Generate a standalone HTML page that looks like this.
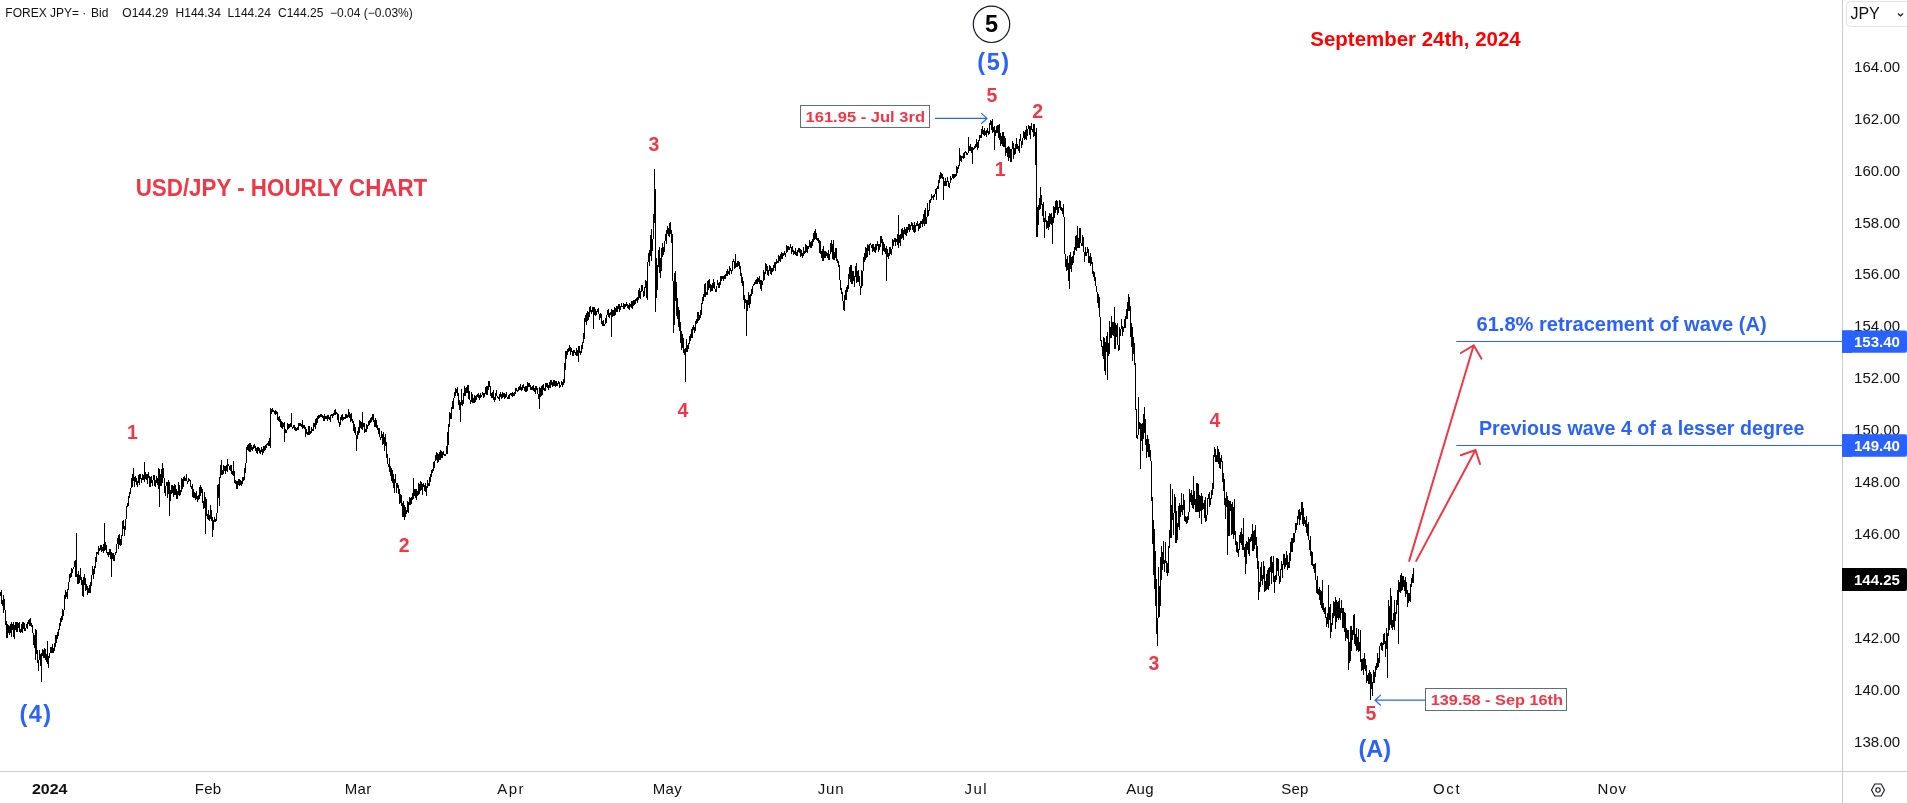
<!DOCTYPE html>
<html><head><meta charset="utf-8"><title>USD/JPY</title>
<style>
html,body{margin:0;padding:0;background:#fff;}
body{width:1907px;height:803px;overflow:hidden;position:relative;font-family:"Liberation Sans", sans-serif;}
svg{position:absolute;left:0;top:0;display:block;will-change:transform;}
.ax{font-family:"Liberation Sans", sans-serif;font-size:15px;fill:#111111;}
.hd{font-family:"Liberation Sans", sans-serif;font-size:12px;fill:#111111;}
.rd{font-family:"Liberation Sans", sans-serif;font-weight:bold;fill:#f23645;}
.bl{font-family:"Liberation Sans", sans-serif;font-weight:bold;fill:#2962ff;}
</style></head>
<body>
<svg width="1907" height="803" viewBox="0 0 1907 803">
<rect x="0" y="0" width="1907" height="803" fill="#ffffff"/>
<!-- price line -->
<path d="M0.5 592.7V595.7V594.2V593.2L1.5 590.2V592.9V601.2V602.1L2.5 606.2V604.5V605.0V604.7L3.5 595.1V605.5V609.9V613.1L4.5 600.5V599.4V600.5V604.4L5.5 614.8V617.6V625.3V617.9L6.5 623.8V627.4V620.9V636.7L7.5 635.0V638.2V629.0V625.0L8.5 626.2V628.6V633.2V633.2L9.5 629.7V625.5V625.7V634.8L10.5 628.4V630.9V633.1V623.7L11.5 627.7V636.5V622.0V624.8L12.5 627.3V624.4V630.4V629.9L13.5 622.3V630.9V633.7V636.2L14.5 637.9V635.7V632.8V625.0L15.5 630.2V627.0V626.3V622.7L16.5 622.4V624.0V631.7V622.6L17.5 622.7V626.0V632.4V632.1L18.5 623.8V622.9V624.8V624.3L19.5 622.7V628.9V632.0V630.3L20.5 629.8V630.1V633.3V632.6L21.5 631.6V631.2V624.0V630.1L22.5 631.7V631.0V622.4V622.9L23.5 628.0V621.6V623.9V628.9L24.5 623.4V630.6V630.2V627.8L25.5 628.2V629.4V628.0V630.6L26.5 625.7V624.2V628.0V626.4L27.5 622.6V626.5V629.4V625.1L28.5 620.1V621.5V621.9V621.5L29.5 626.2V621.1V625.2V619.7L30.5 618.5V621.8V624.5V624.8L31.5 623.3V622.5V623.6V626.5L32.5 625.6V627.9V631.4V630.8L33.5 635.9V638.1V644.8V645.1L34.5 637.4V634.7V637.1V647.8L35.5 641.6V646.6V660.3V629.6L36.5 631.4V643.0V651.0V653.9L37.5 650.4V658.4V659.7V655.2L38.5 670.5V669.6V661.4V660.4L39.5 659.1V659.5V650.0V650.0L40.5 661.7V653.7V656.8V664.3L41.5 666.7V668.8V682.0V654.5V654.6L42.5 651.6V649.6V655.5V648.9L43.5 653.7V657.5V650.1V656.5L44.5 656.3V658.4V654.6V648.3L45.5 650.9V649.2V654.4V660.2L46.5 654.1V661.6V658.6V654.1L47.5 657.9V657.8V641.0V662.4V663.7L48.5 663.3V667.6V668.2V659.9L49.5 652.7V657.0V658.2V655.8L50.5 650.9V649.0V652.3V647.9L51.5 648.0V651.1V652.5V648.6L52.5 652.8V644.5V643.8V648.3L53.5 653.2V648.0V647.9V648.1L54.5 650.5V650.2V648.2V643.4L55.5 646.7V636.4V636.7V635.9L56.5 636.0V636.8V643.2V641.3L57.5 636.1V632.3V636.1V632.9L58.5 636.4V629.0V630.0V631.8L59.5 629.0V630.2V625.5V623.8L60.5 622.2V623.5V625.5V621.1L61.5 615.7V618.8V621.6V616.8L62.5 620.3V615.0V609.1V609.8L63.5 615.8V613.6V611.5V610.2L64.5 609.6V604.1V595.3V601.2L65.5 596.3V596.9V590.1V594.5L66.5 597.3V594.5V591.6V592.1L67.5 591.7V599.1V589.8V589.9L68.5 589.8V583.9V582.4V584.0L69.5 580.0V580.5V579.0V575.7L70.5 573.2V573.6V577.9V573.2L71.5 576.9V567.8V567.6V571.2L72.5 573.2V569.1V569.5V569.9L73.5 567.5V568.1V568.0V569.3L74.5 565.1V560.9V566.1V565.4L75.5 565.2V560.1V570.2V576.2L76.5 576.4V572.1V533.0V576.3V571.6L77.5 575.9V581.2V578.0V582.9L78.5 583.8V578.9V570.6V576.0L79.5 581.5V582.3V574.5V583.2L80.5 577.6V570.2V568.1V573.4L81.5 580.5V579.4V585.0V580.2L82.5 583.4V580.6V579.7V595.8L83.5 595.7V596.8V597.2V578.5L84.5 574.9V574.4V575.0V585.2L85.5 578.5V582.8V582.8V590.3L86.5 589.9V584.3V589.9V585.0L87.5 588.6V587.7V586.4V594.7L88.5 590.7V592.6V589.4V587.9L89.5 592.4V588.2V593.1V584.7L90.5 592.5V589.2V591.2V583.0L91.5 580.7V582.7V586.3V577.7L92.5 572.9V572.9V565.9V571.7L93.5 570.1V578.7V574.5V570.7L94.5 574.0V570.1V572.3V567.0L95.5 565.1V567.5V561.5V557.3L96.5 556.4V553.9V561.5V552.5L97.5 552.2V554.2V552.5V552.9L98.5 554.2V546.1V552.0V550.7L99.5 550.1V548.9V550.6V548.5L100.5 549.5V545.1V550.3V549.8L101.5 545.4V548.9V552.2V549.0L102.5 548.1V547.2V548.4V550.2L103.5 551.7V549.3V543.5V552.6L104.5 549.6V523.0V548.8V549.3V545.9L105.5 549.6V547.6V542.2V544.7L106.5 546.5V551.1V552.5V550.7L107.5 553.8V554.5V554.0V553.6L108.5 552.7V556.9V551.7V551.7L109.5 554.6V549.4V551.7V549.8L110.5 550.0V556.2V559.3V558.2L111.5 557.0V551.9V562.5V577.0V562.1L112.5 555.7V552.9V556.8V556.1L113.5 553.4V555.9V560.9V554.7L114.5 559.4V555.6V560.8V555.3L115.5 554.5V552.1V554.7V553.9L116.5 551.3V552.2V553.2V546.0L117.5 542.6V540.2V540.7V537.9L118.5 548.6V545.5V543.6V537.1L119.5 533.8V535.4V545.1V545.2L120.5 541.8V541.9V538.9V546.1L121.5 543.4V545.2V544.6V539.1L122.5 531.5V536.2V529.9V522.1L123.5 521.0V520.0V526.8V528.4L124.5 526.8V535.9V526.8V532.5L125.5 528.4V523.1V518.6V524.0L126.5 515.0V506.2V506.4V511.0L127.5 503.4V503.7V507.1V506.6L128.5 505.7V504.8V503.9V499.8L129.5 491.6V494.9V497.9V494.3L130.5 492.6V494.0V493.8V489.7L131.5 486.2V484.6V478.6V477.6L132.5 484.2V487.0V474.2V475.7L133.5 476.7V468.0V475.3V481.3V477.6L134.5 484.4V487.0V483.3V477.9L135.5 478.9V475.6V477.1V481.1L136.5 479.4V483.7V479.9V484.0L137.5 484.6V481.3V486.8V483.6L138.5 481.5V481.8V475.2V481.9L139.5 484.8V484.5V482.2V474.5L140.5 476.6V478.5V476.4V474.1L141.5 480.9V483.2V479.4V479.8L142.5 479.8V473.5V475.3V477.2L143.5 477.9V474.6V479.6V475.6L144.5 477.3V479.1V481.9V462.0V478.2L145.5 478.1V472.4V475.0V477.7L146.5 479.6V477.6V473.9V476.6L147.5 475.1V483.2V483.5V479.7L148.5 476.5V474.2V472.2V474.0L149.5 477.9V480.7V482.4V486.6L150.5 481.1V480.4V487.2V477.4L151.5 476.7V479.6V480.9V482.8L152.5 480.9V482.8V482.4V485.6L153.5 475.1V475.1V479.1V476.5L154.5 475.3V482.4V480.0V484.8L155.5 487.4V486.3V486.6V483.8L156.5 476.2V479.1V482.6V479.3L157.5 479.7V483.9V477.7V482.2L158.5 488.5V468.0V481.7V481.1V479.2L159.5 471.2V479.2V507.0V483.3V469.4L160.5 478.3V477.9V486.4V476.8L161.5 485.8V469.0V472.9V477.2L162.5 480.2V483.2V474.1V463.0V467.5L163.5 468.4V469.0V474.6V476.5L164.5 479.4V480.8V487.5V491.1L165.5 494.1V492.9V495.8V489.9L166.5 482.3V484.1V486.4V484.6L167.5 482.3V498.2V495.1V496.0L168.5 492.4V490.6V480.0V480.3L169.5 483.5V492.3V493.8V516.0V488.7L170.5 490.6V495.3V501.0V494.3L171.5 492.8V493.8V485.0V489.5L172.5 487.9V493.1V487.4V484.9L173.5 488.1V492.5V490.1V496.5L174.5 493.1V489.8V493.8V485.0L175.5 485.6V489.1V494.9V492.3L176.5 493.4V489.0V491.7V499.1L177.5 491.3V498.6V492.6V491.3L178.5 491.4V495.2V486.5V482.1L179.5 487.1V491.4V492.2V495.1L180.5 494.1V491.1V492.2V490.2L181.5 492.4V484.2V483.0V478.2L182.5 480.9V480.8V485.3V488.6L183.5 486.0V482.6V480.1V477.6L184.5 477.0V480.6V480.0V479.6L185.5 478.5V480.9V480.6V478.5L186.5 479.5V477.7V474.0V474.7V480.2L187.5 482.4V482.9V482.2V484.1L188.5 480.1V481.5V481.3V478.6L189.5 479.4V479.8V479.8V480.0L190.5 480.3V485.6V486.4V485.8L191.5 487.3V489.0V486.9V486.8L192.5 485.0V495.3V496.9V496.9L193.5 492.5V488.5V489.8V498.1L194.5 492.4V491.7V496.3V497.2L195.5 498.7V496.8V496.4V493.1L196.5 496.2V491.1V499.2V494.1L197.5 497.9V499.7V501.6V500.3L198.5 495.3V500.3V498.5V498.2L199.5 498.4V492.3V493.7V487.9L200.5 486.3V489.2V492.8V495.6L201.5 490.4V486.8V487.0V489.6L202.5 490.0V493.8V501.5V502.5L203.5 501.6V506.1V509.1V508.0L204.5 506.3V507.6V491.5V502.2L205.5 504.9V515.1V533.7V513.0V497.5L206.5 501.3V514.7V504.3V515.6L207.5 514.7V517.6V515.0V517.0L208.5 520.0V511.1V509.5V516.0L209.5 520.5V515.9V515.3V521.2L210.5 508.8V504.9V511.6V516.9L211.5 520.5V510.1V515.7V516.8L212.5 517.9V522.1V527.1V536.7V529.9L213.5 529.0V526.9V521.8V522.2L214.5 517.3V516.9V520.5V522.1L215.5 520.0V519.2V521.8V522.3L216.5 519.6V519.2V518.3V515.1L217.5 510.3V494.6V504.4V487.0L218.5 483.6V497.9V493.1V489.5L219.5 506.1V496.5V476.6V477.9L220.5 477.7V464.7V469.5V473.4L221.5 468.7V465.8V466.2V460.0V475.2L222.5 470.3V474.9V471.3V474.0L223.5 469.4V471.8V474.2V465.7L224.5 466.6V469.5V469.1V467.4L225.5 473.7V471.6V465.8V469.8L226.5 464.7V470.1V467.8V468.7L227.5 472.1V459.0V470.5V465.7V464.0L228.5 464.0V464.1V465.6V465.7L229.5 466.5V469.1V469.5V470.1L230.5 466.2V470.8V471.2V465.4L231.5 465.9V472.7V473.9V474.0L232.5 470.7V474.8V472.6V471.8L233.5 471.7V461.0V468.0V476.1V472.7L234.5 471.0V470.8V476.8V482.7L235.5 480.5V480.6V483.6V482.6L236.5 481.7V484.0V488.8V484.9L237.5 486.3V488.7V488.6V481.7L238.5 481.0V479.6V478.8V483.3L239.5 486.3V480.1V480.2V479.7L240.5 481.4V485.1V481.3V484.5L241.5 483.4V482.9V485.7V483.3L242.5 478.5V481.5V483.8V477.2L243.5 480.5V477.9V481.4V480.6L244.5 472.6V479.7V467.6V468.6L245.5 471.9V470.2V472.9V464.3L246.5 461.8V457.6V457.3V447.4L247.5 446.1V444.7V448.0V449.5L248.5 445.3V444.0V448.4V449.8L249.5 451.0V447.7V449.7V443.8L250.5 444.1V443.0V445.9V451.7L251.5 447.7V446.2V445.2V449.6L252.5 450.6V447.2V447.0V451.4L253.5 446.7V447.4V445.9V445.3L254.5 445.2V447.4V444.3V447.8L255.5 447.1V449.5V445.5V449.9L256.5 448.7V452.4V452.6V452.9L257.5 453.1V450.9V446.7V448.0L258.5 450.8V449.5V446.6V447.6L259.5 449.5V448.3V448.6V452.1L260.5 453.4V454.2V454.3V453.6L261.5 447.6V447.1V447.6V452.4L262.5 449.0V455.2V455.1V449.1L263.5 453.1V448.4V448.7V446.7L264.5 446.5V450.6V446.6V447.8L265.5 449.7V448.3V446.1V444.9L266.5 447.5V446.5V444.1V446.8L267.5 442.8V442.9V443.1V444.8L268.5 441.4V446.2V445.2V444.9L269.5 445.6V441.1V441.9V440.9L270.5 435.5V408.0V448.0V429.2V418.7V416.0L271.5 412.4V409.7V409.0V413.7L272.5 408.0V412.2V412.1V410.3L273.5 412.3V412.1V410.0V411.2L274.5 412.5V413.9V413.8V413.4L275.5 409.6V409.8V413.2V415.2L276.5 412.6V411.9V410.8V410.9L277.5 413.9V417.1V416.7V417.8L278.5 421.3V416.9V418.0V418.6L279.5 421.9V417.6V416.2V419.8L280.5 419.3V421.9V424.4V425.5L281.5 427.6V427.0V426.1V421.2L282.5 426.3V422.2V424.0V429.1L283.5 422.9V427.1V424.8V425.8L284.5 422.3V441.7V422.6V425.2V432.9L285.5 433.2V433.4V433.4V429.3L286.5 432.6V433.3V432.3V432.2L287.5 427.4V425.7V429.7V423.4L288.5 429.4V426.9V423.6V424.0L289.5 424.2V424.4V427.7V426.9L290.5 425.7V427.3V427.0V424.2L291.5 422.8V413.0V423.1V424.7V425.8L292.5 428.8V429.0V427.6V427.9L293.5 427.9V427.6V426.8V425.2L294.5 425.9V425.4V428.7V429.5L295.5 427.3V430.4V431.2V427.4L296.5 431.3V431.2V431.4V428.5L297.5 429.1V429.1V428.6V428.1L298.5 429.3V425.3V423.7V423.3L299.5 423.3V423.4V425.1V425.6L300.5 425.2V423.5V423.0V425.5L301.5 426.1V424.8V423.6V427.4L302.5 424.7V426.4V419.5V428.5V426.6L303.5 426.1V426.2V424.7V427.6L304.5 428.2V426.2V426.9V425.4L305.5 428.8V437.3V433.8V434.0V434.0L306.5 429.5V430.9V429.5V433.6L307.5 433.7V432.4V434.0V434.0L308.5 434.0V426.5V426.0V426.0L309.5 426.0V427.0V431.0V434.0L310.5 433.4V430.5V432.6V433.1L311.5 432.0V427.1V430.8V428.9L312.5 429.9V429.8V431.4V431.1L313.5 430.9V426.4V422.8V426.1L314.5 424.1V426.2V422.5V425.0L315.5 428.2V428.6V423.3V419.1L316.5 423.5V425.4V422.1V418.5L317.5 423.0V422.2V416.2V417.3L318.5 415.4V417.9V416.8V419.3L319.5 417.3V415.3V416.1V418.2L320.5 415.4V413.7V413.8V415.4L321.5 416.3V413.6V413.7V413.8L322.5 418.2V417.1V415.7V415.3L323.5 416.5V420.2V418.7V420.2L324.5 420.3V418.5V416.7V415.3L325.5 416.7V417.7V416.3V418.4L326.5 417.1V417.9V418.8V416.2L327.5 418.5V415.1V420.9V418.9L328.5 415.4V416.8V419.0V417.5L329.5 419.3V418.3V417.7V417.3L330.5 417.7V421.7V419.0V415.7L331.5 414.6V414.9V414.8V414.4L332.5 417.7V415.0V414.4V414.4L333.5 415.4V416.1V413.7V414.6L334.5 412.7V410.1V411.1V413.9L335.5 413.0V408.6V412.1V414.7V412.5L336.5 412.2V412.3V411.7V411.9L337.5 415.0V420.1V419.5V416.3L338.5 413.9V415.7V421.8V422.1L339.5 424.6V426.7V426.8V422.6L340.5 424.7V424.5V417.8V417.9L341.5 415.6V417.4V419.8V416.9L342.5 415.3V419.0V419.2V421.1L343.5 416.9V418.9V419.9V419.7L344.5 418.8V417.9V416.8V418.0L345.5 418.5V417.0V413.7V415.7L346.5 414.4V415.6V415.4V417.4L347.5 417.2V414.6V414.6V416.6L348.5 413.8V414.0V415.6V408.6V416.6L349.5 416.7V418.2V416.3V411.8L350.5 416.8V420.3V421.6V415.8L351.5 414.2V420.4V421.1V417.3L352.5 421.2V419.3V423.1V422.4L353.5 423.5V421.4V431.0V430.0L354.5 424.0V429.2V432.6V429.8L355.5 430.2V429.1V426.8V430.4L356.5 439.0V439.4V450.6V437.6V437.3L357.5 438.4V438.1V437.6V430.6L358.5 434.2V435.1V430.7V427.4L359.5 432.6V430.3V424.3V420.0L360.5 422.4V422.5V422.0V428.4L361.5 423.6V424.8V429.4V421.8L362.5 427.0V430.2V422.7V411.7V419.8L363.5 426.7V423.6V423.2V423.1L364.5 423.2V425.8V432.3V433.0L365.5 430.1V428.6V431.1V431.6L366.5 431.2V426.6V424.1V424.6L367.5 429.2V425.2V425.6V427.1L368.5 422.4V421.1V424.1V426.0L369.5 423.6V420.3V420.7V424.5L370.5 417.7V422.8V421.1V419.4L371.5 417.4V421.8V421.4V420.3L372.5 418.6V414.2V414.5V416.0L373.5 414.8V417.5V420.4V422.3L374.5 420.4V421.9V425.8V426.6L375.5 421.5V427.2V418.3V418.9L376.5 421.2V426.3V425.6V426.8L377.5 425.5V429.3V424.5V426.0L378.5 433.5V430.1V427.6V430.4L379.5 427.6V428.7V431.6V436.8L380.5 437.4V438.1V438.9V439.6L381.5 435.7V438.2V431.1V436.8L382.5 434.3V436.8V444.9V444.2L383.5 432.1V437.1V444.3V444.4L384.5 437.1V437.9V445.2V450.7L385.5 442.0V433.6V441.3V445.5L386.5 442.5V441.8V450.5V457.6L387.5 458.7V454.0V462.1V463.4L388.5 464.8V465.5V465.7V466.9L389.5 463.4V457.5V462.7V467.4L390.5 475.5V475.1V465.7V467.2L391.5 468.3V473.0V480.6V471.8L392.5 470.8V480.1V479.6V482.8L393.5 479.7V474.4V487.9V485.0L394.5 489.7V493.0V486.0V483.9L395.5 473.9V480.4V478.0V476.9L396.5 489.0V486.6V493.0V488.4L397.5 486.5V487.8V482.8V487.8L398.5 485.0V488.3V493.6V488.8L399.5 490.2V503.6V502.1V499.4L400.5 502.5V498.0V494.3V497.9L401.5 495.4V494.8V501.2V503.6L402.5 508.6V508.8V516.6V504.9L403.5 501.9V501.1V502.0V514.2L404.5 520.0V512.4V506.5V504.8L405.5 517.0V510.0V506.5V509.2L406.5 512.7V510.9V513.7V510.3L407.5 511.4V503.8V507.0V501.5L408.5 503.2V513.2V506.9V509.3L409.5 501.6V498.2V503.2V497.2L410.5 505.0V498.1V502.4V501.7L411.5 503.6V496.9V501.1V499.5L412.5 496.1V499.8V499.2V495.4L413.5 490.7V477.8V495.8V494.8V498.5L414.5 490.4V489.1V493.4V493.3L415.5 497.9V488.8V495.4V490.0L416.5 490.4V500.4V498.5V488.7L417.5 494.1V490.7V495.9V496.2L418.5 494.1V489.4V490.0V483.1L419.5 486.0V493.8V489.2V484.8L420.5 487.9V491.3V489.6V481.2L421.5 483.2V486.4V489.9V482.3L422.5 486.3V492.9V495.3V487.4L423.5 483.5V485.8V485.3V485.9L424.5 488.5V491.2V488.9V485.5L425.5 483.9V485.3V485.4V487.4L426.5 495.6V494.8V490.5V489.6L427.5 483.4V480.1V485.1V488.2L428.5 483.3V486.1V484.6V482.9L429.5 486.0V482.9V477.4V478.4L430.5 477.9V481.9V473.7V477.3L431.5 476.1V469.6V472.9V471.3L432.5 472.4V470.9V469.7V469.2L433.5 471.3V468.9V468.6V462.0L434.5 468.3V461.4V465.0V463.2L435.5 458.3V459.2V461.2V458.2L436.5 452.3V452.6V460.4V456.7L437.5 453.2V457.4V461.7V462.0L438.5 461.7V458.6V459.3V457.5L439.5 451.6V459.1V460.1V454.0L440.5 459.5V458.0V454.4V449.6L441.5 452.7V452.8V455.9V457.7L442.5 457.6V453.9V452.1V455.9L443.5 454.1V451.9V451.3V453.8L444.5 455.1V455.7V454.7V455.0L445.5 455.8V456.3V456.3V455.0L446.5 453.6V452.7V452.2V446.5L447.5 454.4V441.2V442.2V434.4L448.5 429.3V431.4V444.5V427.7L449.5 420.2V416.0V412.0V426.5L450.5 412.6V415.3V416.7V416.5L451.5 419.4V416.8V409.4V407.0L452.5 408.9V403.5V400.8V403.0L453.5 400.4V409.1V401.9V402.0L454.5 394.0V394.6V396.3V393.1L455.5 394.2V392.4V396.3V389.0L456.5 390.0V392.6V389.0V389.6L457.5 388.0V390.3V393.5V395.5L458.5 395.7V394.1V392.6V404.0L459.5 406.0V407.9V399.9V409.8L460.5 409.7V421.6V408.7V401.8V403.1L461.5 404.4V389.0V392.3V401.3L462.5 405.6V403.1V399.7V402.5L463.5 403.6V393.7V395.2V398.4L464.5 388.1V385.6V395.7V388.8L465.5 390.5V387.9V393.1V395.5L466.5 389.8V386.9V387.5V389.1L467.5 388.1V385.3V393.2V385.4L468.5 385.8V389.5V390.8V398.5L469.5 398.4V396.5V390.6V398.0L470.5 401.7V403.6V400.0V403.5L471.5 400.9V398.6V396.1V391.6L472.5 396.8V394.0V403.1V396.2L473.5 399.6V399.5V398.2V402.7L474.5 402.6V397.3V400.0V394.7L475.5 398.0V395.5V400.3V401.6L476.5 398.0V397.3V397.3V395.1L477.5 395.7V397.2V395.1V394.2L478.5 393.6V398.3V397.4V396.2L479.5 400.1V395.4V394.9V400.1L480.5 395.5V392.9V394.3V397.6L481.5 395.4V396.0V396.2V397.2L482.5 392.3V394.3V394.4V393.1L483.5 397.5V398.3V394.6V393.8L484.5 394.3V397.3V392.5V393.1L485.5 393.1V392.3V389.1V387.1L486.5 386.5V386.2V395.4V394.4L487.5 394.5V392.6V385.7V390.8L488.5 388.1V382.7V382.3V381.9L489.5 381.5V387.4V383.9V383.8L490.5 388.8V393.4V386.8V395.6L491.5 393.5V393.0V396.1V397.8L492.5 395.5V398.1V395.2V392.7L493.5 390.6V395.4V400.0V397.5L494.5 402.2V402.2V400.4V397.6L495.5 400.0V393.8V399.2V394.9L496.5 391.0V390.1V394.4V395.5L497.5 396.1V396.3V396.1V396.8L498.5 398.4V398.8V397.7V397.5L499.5 400.5V397.3V397.5V396.0L500.5 391.8V391.9V392.0V394.8L501.5 399.4V394.1V393.5V394.0L502.5 394.7V392.2V393.5V397.2L503.5 395.9V394.4V393.2V396.4L504.5 393.1V397.8V395.9V398.0L505.5 397.0V395.9V395.2V396.6L506.5 392.5V392.6V392.6V396.1L507.5 398.2V398.7V397.1V397.7L508.5 396.1V398.5V397.4V397.0L509.5 398.3V397.1V395.0V394.4L510.5 394.0V393.3V395.2V394.2L511.5 394.9V393.1V396.3V395.2L512.5 396.2V394.3V393.6V392.7L513.5 393.8V395.7V393.6V395.8L514.5 395.7V395.5V395.3V392.3L515.5 391.5V394.1V390.3V388.2L516.5 388.6V390.0V387.7V390.3L517.5 391.5V391.8V391.6V390.1L518.5 390.4V387.8V387.2V386.8L519.5 389.6V385.6V386.2V389.3L520.5 386.5V389.7V385.4V384.3L521.5 390.5V389.0V390.8V388.7L522.5 386.8V390.4V389.6V385.2L523.5 384.5V387.4V388.3V384.9L524.5 390.1V387.4V387.0V389.6L525.5 392.0V389.0V388.2V386.9L526.5 386.2V392.0V388.1V391.2L527.5 386.5V390.8V382.4V387.0L528.5 386.2V383.0V384.2V385.8L529.5 384.9V383.2V386.3V386.8L530.5 387.3V389.9V384.8V386.2L531.5 388.1V387.2V388.3V390.0L532.5 385.9V389.0V390.4V387.6L533.5 386.9V385.1V388.5V389.9L534.5 388.9V389.9V389.2V391.1L535.5 389.3V387.9V385.5V394.3L536.5 385.6V387.5V386.8V386.3L537.5 390.3V389.0V393.9V390.7L538.5 396.7V396.7V398.9V398.8L539.5 390.9V408.6V386.9V389.7V390.5L540.5 389.2V396.5V397.3V394.3L541.5 395.6V388.9V389.0V388.0L542.5 384.8V388.2V389.1V395.3L543.5 384.4V384.3V384.2V385.6L544.5 389.6V391.1V390.3V388.1L545.5 390.3V390.6V383.4V385.3L546.5 383.0V382.9V385.5V386.7L547.5 387.3V384.5V385.2V383.4L548.5 385.9V387.7V390.1V389.7L549.5 385.8V384.2V382.4V384.2L550.5 388.0V387.5V380.9V380.4L551.5 380.3V382.4V382.6V383.4L552.5 386.2V383.2V381.6V386.3L553.5 385.3V382.7V380.0V380.0L554.5 380.0V380.3V382.1V385.0L555.5 383.9V382.3V381.4V386.9L556.5 381.2V383.0V383.5V385.1L557.5 383.5V384.9V386.4V384.7L558.5 383.1V383.1V381.0V382.0L559.5 382.1V383.5V387.0V388.0L560.5 384.6V385.5V385.0V386.0L561.5 384.5V384.4V382.5V380.9L562.5 384.1V386.5V386.0V385.2L563.5 384.4V382.4V379.0V382.2L564.5 382.8V377.1V366.6V375.5L565.5 351.3V370.0V365.3V362.9L566.5 355.3V353.7V350.9V352.2L567.5 351.3V348.6V354.5V349.7L568.5 348.6V352.1V349.4V348.5L569.5 350.9V349.2V345.2V347.4L570.5 348.0V355.2V348.4V352.7L571.5 348.5V348.1V348.0V350.0L572.5 352.9V355.5V351.1V354.8L573.5 355.4V355.0V349.8V352.7L574.5 350.9V351.5V349.8V351.9L575.5 354.3V355.1V352.0V354.1L576.5 355.4V350.3V355.0V348.5L577.5 351.4V352.9V356.1V354.3L578.5 351.0V348.5V345.9V362.0V351.3L579.5 345.8V348.4V345.9V352.4L580.5 353.8V353.3V350.5V353.9L581.5 351.6V353.1V346.4V348.6L582.5 342.2V345.8V347.3V348.8L583.5 337.2V333.8V341.3V333.1L584.5 332.8V339.0V317.5V320.5L585.5 319.0V314.6V321.5V319.9L586.5 320.6V312.6V324.7V315.5L587.5 310.6V310.9V321.2V317.5L588.5 320.4V318.5V317.2V312.1L589.5 316.5V312.8V312.4V307.2L590.5 307.0V307.7V307.3V309.5L591.5 314.2V312.0V310.1V314.1L592.5 310.8V307.0V307.0V307.1L593.5 308.8V328.6V308.7V307.8V307.0L594.5 307.0V309.5V315.3V311.7L595.5 310.0V310.1V313.1V315.5L596.5 313.5V314.2V314.0V312.0L597.5 310.9V311.9V310.5V309.8L598.5 309.6V308.4V308.1V310.8L599.5 316.5V315.5V317.8V319.5L600.5 317.1V315.3V315.2V312.6L601.5 315.8V321.8V322.8V323.5L602.5 325.0V320.8V325.2V325.3L603.5 325.4V320.2V321.6V325.6L604.5 325.7V323.6V325.9V326.0L605.5 322.5V322.2V317.7V323.7L606.5 322.6V322.2V316.9V315.3L607.5 314.4V314.2V309.9V311.8L608.5 309.0V311.5V310.4V316.0L609.5 314.3V317.7V318.0V314.9L610.5 314.6V311.7V311.9V313.7L611.5 312.6V316.5V313.9V336.9V308.7L612.5 310.6V312.9V316.9V315.1L613.5 314.3V310.2V312.3V315.6L614.5 315.9V307.1V311.5V315.4L615.5 314.9V307.5V307.7V310.4L616.5 311.1V307.6V305.8V310.4L617.5 305.7V311.5V309.9V310.0L618.5 305.4V305.3V308.7V304.3L619.5 311.8V305.8V303.6V305.8L620.5 307.9V309.5V307.3V306.7L621.5 306.4V305.3V302.7V306.2L622.5 307.2V307.4V305.5V306.8L623.5 306.7V306.5V309.2V303.5L624.5 305.7V303.5V304.3V308.9L625.5 304.8V305.3V304.3V307.4L626.5 304.4V301.9V305.0V304.6L627.5 304.5V307.7V304.5V304.3L628.5 305.4V306.4V304.7V307.5L629.5 309.5V307.2V309.4V302.8L630.5 307.4V305.4V305.6V304.6L631.5 303.4V301.4V302.5V306.8L632.5 308.4V305.4V303.5V302.0L633.5 299.9V306.3V306.3V304.8L634.5 302.3V299.7V304.6V305.2L635.5 300.7V303.8V299.3V302.0L636.5 298.3V297.7V299.9V300.4L637.5 302.1V296.6V301.8V302.2L638.5 298.8V298.1V293.0V292.6L639.5 287.9V291.0V292.7V297.6L640.5 298.2V297.8V293.2V291.6L641.5 290.3V291.6V285.0V290.7L642.5 285.1V286.2V288.5V287.5L643.5 294.6V291.2V296.4V296.6L644.5 289.5V290.2V296.0V288.1L645.5 286.9V281.1V282.7V279.8L646.5 281.8V291.0V298.4V290.6L647.5 287.1V300.0V292.4V281.8V267.2L648.5 256.7V255.3V254.0V252.7L649.5 265.9V261.0V262.9V249.6L650.5 256.2V235.5V247.5V242.0L651.5 229.1V250.7V261.4V240.8L652.5 251.3V242.7V246.7V244.5L653.5 234.7V219.6V239.0V214.8L654.5 212.9V222.9V180.4V169.0V209.4L655.5 189.3V228.5V312.0V232.7V247.4L656.5 267.0V290.9V278.4V298.2L657.5 279.0V282.0V290.4V268.6L658.5 261.8V250.0V262.6V266.9L659.5 264.3V272.8V246.9V255.6L660.5 261.2V258.9V268.4V278.2L661.5 263.5V250.6V247.5V251.6L662.5 256.6V246.2V255.2V243.4L663.5 250.4V250.2V249.9V255.0L664.5 248.6V243.8V244.9V247.1L665.5 235.4V238.5V234.1V238.7L666.5 243.7V239.0V235.8V235.2L667.5 225.9V230.9V234.3V233.9L668.5 231.2V228.4V229.3V235.6L669.5 232.6V237.4V223.2V224.7L670.5 228.8V229.2V222.1V224.8L671.5 242.5V233.4V231.6V230.0L672.5 237.8V263.7V280.2V252.9L673.5 306.9V306.0V312.5V333.4L674.5 316.3V288.9V281.0V274.8L675.5 271.4V279.7V299.3V301.3L676.5 281.8V315.7V296.9V298.6L677.5 298.7V307.9V303.0V310.3L678.5 326.6V323.2V307.3V317.1L679.5 310.2V313.4V322.9V330.6L680.5 328.0V342.5V336.2V321.6L681.5 340.6V336.3V350.4V340.0L682.5 346.8V348.1V334.0V336.5L683.5 339.1V351.6V342.9V350.7L684.5 355.0V354.1V354.4V349.2L685.5 348.9V349.6V350.8V382.0V352.5L686.5 351.4V349.4V339.1V346.4L687.5 345.3V351.8V351.4V349.6L688.5 348.5V346.0V345.2V343.1L689.5 343.5V335.5V336.6V336.3L690.5 335.2V340.6V340.2V336.4L691.5 337.1V334.4V333.3V331.5L692.5 326.6V329.2V338.0V330.5V328.4L693.5 329.6V328.4V325.1V324.6L694.5 329.5V328.7V332.6V328.4L695.5 329.9V328.3V325.3V322.6L696.5 318.9V323.7V324.0V320.6L697.5 323.4V321.8V312.1V313.4L698.5 312.6V318.5V313.2V320.5L699.5 319.2V314.7V319.8V315.5L700.5 314.6V318.4V316.1V309.6L701.5 314.7V312.8V308.1V303.8L702.5 303.0V298.7V297.3V302.0L703.5 299.4V300.8V295.8V293.7L704.5 296.8V283.9V289.8V295.0L705.5 282.7V293.4V296.8V290.3L706.5 293.4V294.5V293.3V295.4L707.5 292.0V294.9V290.5V281.2L708.5 289.6V282.6V285.7V281.2L709.5 280.1V288.3V279.1V285.3L710.5 287.1V291.7V291.4V285.1L711.5 286.0V290.7V290.4V288.5L712.5 290.1V288.5V290.5V283.8L713.5 282.1V285.8V278.8V288.4L714.5 282.5V288.3V287.5V286.0L715.5 292.1V289.9V288.5V291.0L716.5 286.7V289.7V286.3V291.5L717.5 279.9V282.5V284.7V281.0L718.5 287.8V283.5V285.2V283.7L719.5 282.9V284.1V287.7V285.5L720.5 283.5V285.0V277.6V276.8L721.5 278.5V280.5V281.4V275.9L722.5 277.9V278.0V279.1V276.4L723.5 276.4V278.0V281.4V277.9L724.5 278.1V276.1V277.6V276.2L725.5 275.1V278.5V274.1V278.4L726.5 273.7V274.8V271.0V274.7L727.5 272.6V270.4V268.6V276.2L728.5 272.4V271.1V271.1V270.9L729.5 273.8V275.3V268.3V267.0L730.5 268.4V268.0V269.6V268.4L731.5 274.3V273.9V273.6V270.3L732.5 270.9V268.5V262.6V263.1L733.5 260.0V259.6V259.2V258.8L734.5 262.9V262.9V269.4V264.7L735.5 265.9V254.0V263.4V267.5V266.5L736.5 263.4V263.5V267.3V266.3L737.5 261.0V265.8V265.3V266.3L738.5 264.5V260.7V260.9V263.5L739.5 262.6V262.9V269.2V265.7L740.5 266.5V272.8V266.0V275.8L741.5 272.8V279.6V278.0V282.4L742.5 284.3V285.7V276.6V278.1L743.5 283.8V298.9V293.6V299.2L744.5 299.8V303.0V308.5V295.3L745.5 301.7V302.5V302.7V300.3L746.5 300.5V336.0V299.9V299.5V318.5L747.5 303.5V306.3V300.0V303.2L748.5 297.3V298.2V304.8V292.4L749.5 300.2V295.4V307.8V306.5L750.5 300.8V303.9V299.7V295.0L751.5 295.6V288.8V295.3V290.4L752.5 289.8V293.8V292.3V288.0L753.5 284.8V283.9V285.6V285.1L754.5 284.6V281.6V282.5V283.5L755.5 279.7V282.7V283.0V283.4L756.5 283.2V283.6V284.1V279.6L757.5 282.2V280.0V276.6V283.9L758.5 279.6V282.2V281.1V278.4L759.5 277.1V284.3V280.4V281.5L760.5 280.9V279.7V280.9V287.4L761.5 290.7V291.0V286.1V281.0L762.5 280.6V280.5V283.6V284.9L763.5 277.9V272.4V269.9V270.7L764.5 273.1V279.7V280.0V276.2L765.5 270.9V269.2V264.0V263.3L766.5 266.5V271.2V264.4V268.1L767.5 265.8V267.2V275.3V275.4L768.5 271.8V275.6V275.7V270.8L769.5 269.9V271.0V271.2V265.9L770.5 266.4V270.3V271.3V274.0L771.5 274.1V272.6V268.5V268.0L772.5 270.5V267.9V270.9V271.1L773.5 270.9V269.0V266.1V268.1L774.5 263.2V268.3V264.2V261.6L775.5 266.7V268.5V270.5V265.5L776.5 259.0V263.8V263.9V264.3L777.5 261.8V262.8V262.1V261.0L778.5 261.0V262.5V255.2V255.5L779.5 256.7V260.0V256.6V259.1L780.5 261.8V261.3V258.3V256.8L781.5 252.0V254.0V255.7V258.6L782.5 258.0V255.3V252.9V259.3L783.5 253.1V253.2V255.6V254.5L784.5 254.1V254.7V252.2V250.7L785.5 254.4V256.6V255.8V255.0L786.5 250.8V249.2V245.2V248.9L787.5 247.4V250.2V252.0V247.1L788.5 246.9V249.5V246.7V249.6L789.5 246.8V247.2V249.2V250.3L790.5 245.9V244.4V244.5V244.6L791.5 250.4V253.8V250.2V252.3L792.5 249.8V245.9V248.0V248.7L793.5 254.4V254.5V252.8V250.8L794.5 251.1V253.6V252.5V253.3L795.5 255.2V252.4V248.0V252.1L796.5 252.1V253.4V254.5V255.9L797.5 255.3V254.3V256.2V250.6L798.5 250.9V251.5V251.1V247.6L799.5 251.1V253.4V252.1V248.0L800.5 251.6V249.1V253.7V257.3L801.5 254.3V250.5V250.3V252.4L802.5 253.7V254.1V254.4V257.5L803.5 254.4V250.2V247.4V251.7L804.5 252.8V251.1V252.6V254.1L805.5 252.2V245.0V248.7V244.4L806.5 246.4V245.0V246.6V251.4L807.5 251.1V253.0V250.3V246.4L808.5 249.4V247.2V248.1V249.1L809.5 244.2V240.4V243.4V245.9L810.5 246.3V247.9V244.8V244.6L811.5 240.6V246.0V245.2V248.1L812.5 243.0V241.5V240.1V239.9L813.5 241.0V233.1V237.7V236.5L814.5 236.3V239.6V232.5V231.3L815.5 234.7V238.6V237.0V229.2L816.5 235.9V232.9V233.1V239.1L817.5 238.0V237.8V238.5V240.1L818.5 238.9V241.0V238.6V242.3L819.5 240.9V245.2V250.1V252.2L820.5 253.4V244.4V241.2V248.8L821.5 254.1V256.0V253.2V254.2L822.5 260.6V258.2V248.8V255.4L823.5 246.5V255.0V260.7V260.0L824.5 256.1V251.1V251.8V251.7L825.5 258.2V255.8V256.2V251.6L826.5 252.1V254.5V253.6V255.5L827.5 252.9V258.3V253.0V255.5L828.5 251.8V250.7V250.3V260.0L829.5 255.1V259.7V260.0V256.8L830.5 251.8V242.8V246.4V250.7L831.5 251.4V251.2V252.4V240.3L832.5 247.9V259.1V257.1V255.0L833.5 260.0V240.2V240.7V248.8L834.5 255.6V257.6V259.7V260.0L835.5 256.4V257.5V255.5V248.4L836.5 254.9V247.7V256.3V259.1L837.5 261.7V262.9V262.7V260.4L838.5 262.1V265.8V266.9V262.1L839.5 268.0V273.8V280.0V274.9L840.5 284.0V283.5V285.9V289.2L841.5 291.5V294.0V292.9V287.8L842.5 297.8V291.7V293.3V293.4L843.5 308.0V305.1V310.0V305.5L844.5 300.3V300.6V296.9V311.0V295.3L845.5 300.1V298.6V290.1V295.5L846.5 299.7V294.3V294.2V287.9L847.5 289.7V284.9V285.4V291.8L848.5 287.1V286.0V274.4V278.9L849.5 276.8V273.2V267.2V276.5L850.5 281.5V273.6V273.8V265.3L851.5 265.6V264.5V281.1V283.6L852.5 283.8V271.0V278.1V275.3L853.5 271.5V271.8V281.0V273.8L854.5 286.7V276.0V283.9V281.5L855.5 271.3V277.4V275.7V268.9L856.5 263.2V276.5V276.2V283.2L857.5 281.3V270.6V279.0V275.0L858.5 275.4V282.1V270.0V270.7L859.5 280.0V276.8V276.2V283.1L860.5 288.6V292.9V294.5V291.6L861.5 284.3V281.8V270.0V286.5L862.5 284.5V282.5V272.2V273.5L863.5 269.4V270.1V262.0V257.2L864.5 261.9V255.6V253.4V255.8L865.5 257.0V258.9V259.6V246.7L866.5 253.7V251.7V247.7V257.9L867.5 255.4V246.9V255.5V243.7L868.5 246.8V248.9V250.6V248.7L869.5 249.5V254.5V248.6V244.4L870.5 243.9V244.1V244.2V244.3L871.5 245.3V246.3V248.2V246.7L872.5 245.3V249.4V248.4V250.7L873.5 249.1V251.3V248.7V244.1L874.5 251.4V247.4V251.9V251.3L875.5 244.1V245.9V252.8V250.6L876.5 249.7V246.7V244.1V247.3L877.5 244.3V244.8V241.6V240.8L878.5 247.4V244.4V251.6V249.2L879.5 246.0V247.6V250.0V243.8L880.5 246.5V245.2V236.3V236.4L881.5 236.6V238.6V242.4V243.0L882.5 239.5V241.5V254.9V255.3L883.5 247.5V242.3V250.3V248.0L884.5 252.1V246.9V251.2V243.7L885.5 253.6V253.4V254.4V249.2L886.5 250.2V247.7V245.9V280.7V254.7L887.5 250.9V251.7V248.6V254.3L888.5 258.6V253.4V252.8V255.0L889.5 255.0V250.2V246.9V253.0L890.5 253.7V253.3V246.6V250.4L891.5 252.6V248.9V250.8V254.7L892.5 243.6V247.6V241.9V239.1L893.5 241.5V245.6V245.4V240.8L894.5 238.6V239.4V241.9V240.2L895.5 238.2V245.7V241.5V241.6L896.5 240.2V239.2V240.8V240.2L897.5 243.1V237.6V234.4V245.4L898.5 242.5V244.7V247.5V215.0V246.0L899.5 240.4V235.4V238.2V236.4L900.5 235.2V243.2V246.0V240.4L901.5 235.9V229.6V229.4V238.0L902.5 236.8V232.2V228.4V237.1L903.5 234.3V237.0V239.5V232.9L904.5 227.4V230.2V234.0V232.5L905.5 232.2V233.9V229.4V233.6L906.5 236.3V229.5V227.5V228.1L907.5 227.4V228.3V233.3V226.8L908.5 229.9V228.5V226.8V224.6L909.5 224.5V225.3V231.5V227.1L910.5 229.9V224.9V227.9V226.6L911.5 225.6V221.6V222.1V222.6L912.5 229.3V229.8V229.1V224.2L913.5 225.5V228.2V231.7V231.5L914.5 232.0V228.3V221.9V228.7L915.5 232.0V232.0V228.2V226.7L916.5 224.2V223.0V223.9V226.0L917.5 220.7V224.9V225.6V224.4L918.5 225.9V224.0V225.7V231.0L919.5 226.2V228.8V224.7V224.2L920.5 225.8V223.4V228.4V221.5L921.5 222.8V223.6V224.1V223.0L922.5 218.9V220.8V226.8V226.3L923.5 222.5V215.7V213.7V220.0L924.5 216.6V215.8V226.2V210.1L925.5 217.9V208.3V207.7V223.2L926.5 223.8V221.2V221.0V221.2L927.5 212.9V204.3V203.1V208.8L928.5 211.9V216.4V211.4V212.7L929.5 208.6V200.8V199.9V202.9L930.5 201.6V198.9V199.0V202.9L931.5 197.9V193.9V195.0V193.8L932.5 198.4V196.1V196.9V196.4L933.5 197.2V197.7V200.0V195.5L934.5 195.1V194.7V195.0V196.8L935.5 192.2V190.6V189.4V192.1L936.5 193.9V196.5V200.0V189.1L937.5 186.2V187.6V189.2V188.6L938.5 186.8V179.6V189.2V183.8L939.5 182.2V176.4V177.4V175.2L940.5 177.9V179.0V172.3V175.9V176.2L941.5 173.3V172.7V174.7V177.8L942.5 178.8V175.5V177.6V173.7L943.5 179.8V200.0V184.1V180.7V181.1L944.5 181.8V185.8V183.0V182.6L945.5 185.5V177.8V179.3V181.6L946.5 186.4V181.3V185.5V185.7L947.5 178.5V176.8V176.9V179.9L948.5 182.6V185.6V187.2V183.2L949.5 187.0V187.7V186.7V185.8L950.5 180.0V182.0V178.9V177.1L951.5 178.3V179.6V179.5V178.7L952.5 177.1V178.2V176.9V175.2L953.5 176.3V178.9V176.7V174.4L954.5 177.4V178.3V176.1V174.6L955.5 174.5V176.9V176.2V176.2L956.5 174.8V168.6V166.8V165.8L957.5 168.3V168.6V173.4V169.3L958.5 168.8V167.4V165.5V167.5L959.5 163.5V161.5V147.9V160.1V155.8L960.5 155.2V157.2V161.0V159.2L961.5 161.4V161.6V160.0V156.3L962.5 157.5V155.8V155.5V156.8L963.5 158.8V152.6V154.8V155.5L964.5 157.7V153.9V155.8V152.7L965.5 151.4V150.8V152.6V152.1L966.5 154.6V153.9V152.3V153.3L967.5 154.0V152.9V153.8V153.2L968.5 152.5V137.0V149.5V151.8V152.9L969.5 148.5V146.3V146.1V147.2L970.5 145.4V146.6V149.3V150.0L971.5 152.7V146.9V149.5V150.0L972.5 148.7V150.3V163.8V146.9V148.0L973.5 148.4V148.3V149.3V149.3L974.5 148.1V146.3V146.0V147.0L975.5 145.6V147.9V145.3V144.3L976.5 144.6V143.4V147.4V139.0V144.5L977.5 144.6V141.8V146.6V148.5L978.5 146.7V144.5V142.2V140.5L979.5 140.6V141.4V141.0V134.7L980.5 138.1V137.2V136.6V136.2L981.5 137.5V133.2V128.5V129.7L982.5 129.8V125.9V126.0V132.5L983.5 134.6V132.6V129.5V133.0L984.5 128.3V133.9V135.7V133.8L985.5 132.3V134.5V134.2V133.4L986.5 136.6V136.0V130.4V132.0L987.5 132.7V131.9V128.3V129.5L988.5 134.0V132.8V130.6V134.0L989.5 133.6V129.4V129.0V123.4L990.5 123.8V123.5V125.1V120.8L991.5 121.9V120.5V128.3V130.4L992.5 125.3V122.9V119.0V129.0V132.4L993.5 131.0V126.5V127.3V128.8L994.5 127.8V125.9V127.2V150.0V136.6L995.5 134.3V129.8V131.9V132.3L996.5 130.4V132.5V131.6V125.9L997.5 131.4V133.0V125.1V126.3L998.5 126.1V124.7V137.9V126.8L999.5 124.2V131.1V132.9V139.9L1000.5 136.5V133.1V146.2V141.0L1001.5 143.6V135.7V135.7V141.6L1002.5 132.5V144.1V145.9V146.4L1003.5 140.7V146.6V135.8V132.4L1004.5 141.0V144.5V147.1V136.5L1005.5 139.9V148.9V156.0V154.1L1006.5 152.2V148.1V148.4V151.7L1007.5 148.2V147.6V147.2V153.7L1008.5 160.8V150.7V145.7V154.8L1009.5 155.4V158.4V154.1V146.9L1010.5 154.1V160.5V161.8V149.0L1011.5 155.7V161.6V157.5V153.6L1012.5 145.3V141.8V146.3V141.4L1013.5 145.3V159.3V154.0V152.1L1014.5 154.8V154.6V148.4V151.6L1015.5 143.6V147.0V152.6V154.0L1016.5 144.9V146.3V138.2V142.3L1017.5 149.0V144.4V148.2V147.9L1018.5 145.8V150.7V147.6V150.3L1019.5 152.4V149.7V142.6V143.2L1020.5 134.5V134.2V137.1V137.5L1021.5 144.6V144.6V148.2V146.1L1022.5 138.5V139.0V143.9V144.7L1023.5 130.9V137.0V138.3V135.6L1024.5 139.2V131.7V137.9V139.6L1025.5 138.4V135.4V134.1V129.6L1026.5 132.5V139.6V130.7V126.5L1027.5 136.3V130.9V131.8V131.4L1028.5 127.2V124.7V126.9V127.4L1029.5 126.7V133.0V135.4V130.7L1030.5 139.2V137.5V130.5V125.6L1031.5 128.4V129.2V123.0V124.0V129.4L1032.5 130.4V131.6V129.0V130.7L1033.5 132.9V136.8V125.7V124.0L1034.5 124.0V129.9V135.8V134.0L1035.5 132.0V133.7V135.2V157.6L1036.5 172.2V193.0V237.0V128.0V205.8V207.6L1037.5 207.1V225.3V237.0V216.9V225.9L1038.5 224.0V217.8V205.1V210.8L1039.5 199.0V197.5V200.5V210.0L1040.5 208.0V206.0V197.7V186.6V194.1L1041.5 195.9V194.7V198.0V203.2L1042.5 206.4V203.5V210.3V215.8L1043.5 201.6V202.8V215.1V219.4L1044.5 223.5V227.3V218.1V238.0V220.6L1045.5 214.7V211.0V218.9V218.4L1046.5 224.5V220.1V229.3V229.4L1047.5 225.3V223.2V220.6V225.1L1048.5 230.0V224.2V216.2V222.0L1049.5 227.2V215.6V214.8V212.9L1050.5 220.4V223.5V218.4V214.1L1051.5 221.6V212.7V220.0V220.1L1052.5 229.4V228.1V219.7V243.6V216.6L1053.5 222.6V216.1V206.0V214.6L1054.5 212.0V218.1V212.7V208.1L1055.5 206.2V204.1V201.2V213.4L1056.5 206.3V208.2V208.5V200.0L1057.5 206.4V203.7V200.5V214.4L1058.5 212.3V209.2V213.3V208.9L1059.5 206.0V207.9V207.4V200.0V203.1L1060.5 201.5V209.5V208.8V206.3L1061.5 207.9V210.9V209.6V210.3L1062.5 212.2V213.5V210.2V210.8L1063.5 204.5V204.8V207.1V213.3L1064.5 219.8V221.2V234.8V248.9L1065.5 259.4V256.9V259.3V264.3L1066.5 270.4V264.8V270.8V260.1L1067.5 257.5V256.1V268.7V269.3L1068.5 271.0V263.4V265.7V281.3L1069.5 261.0V289.0V254.8V267.6V258.5L1070.5 269.1V259.2V252.3V261.7L1071.5 272.3V267.4V263.6V257.3L1072.5 256.5V259.9V263.4V265.1L1073.5 261.5V251.2V253.7V252.3L1074.5 254.5V253.8V248.5V248.7L1075.5 245.1V250.2V247.8V236.3L1076.5 235.8V251.2V246.8V249.3L1077.5 247.4V245.2V246.1V226.0V242.8L1078.5 238.5V244.7V246.2V247.4L1079.5 247.0V243.1V239.7V228.6L1080.5 228.9V235.2V241.0V240.4L1081.5 245.3V245.4V246.1V245.3L1082.5 245.8V239.1V234.9V241.6L1083.5 236.7V237.1V237.8V244.3L1084.5 259.4V256.9V256.6V262.4L1085.5 249.0V254.7V247.0V251.5L1086.5 252.2V255.5V255.1V256.1L1087.5 250.8V252.3V251.9V246.6L1088.5 251.9V256.4V263.4V260.9L1089.5 259.7V255.9V262.5V262.5L1090.5 255.9V266.0V259.7V253.0L1091.5 260.8V257.3V257.0V261.6L1092.5 265.8V262.4V265.2V273.5L1093.5 273.0V276.8V272.3V270.7L1094.5 279.0V279.3V281.0V272.2L1095.5 282.7V277.1V276.7V282.0L1096.5 290.2V291.4V287.0V286.1L1097.5 298.4V301.1V293.6V296.6L1098.5 308.4V294.1V293.5V306.0L1099.5 296.6V302.0V308.0V306.5L1100.5 327.0V329.0V336.7V339.3L1101.5 342.0V344.6V347.2V340.3L1102.5 351.7V350.7V355.9V353.7L1103.5 357.7V339.3V336.9V354.8L1104.5 363.4V370.5V358.2V337.8L1105.5 374.9V371.9V355.8V342.0L1106.5 345.0V339.2V352.0V336.7L1107.5 336.3V346.4V331.5V379.5V350.4L1108.5 343.4V346.3V343.9V354.7L1109.5 353.0V348.5V339.7V321.0L1110.5 333.7V327.2V338.0V330.7L1111.5 328.0V337.6V330.4V315.9L1112.5 327.1V332.6V335.1V330.5L1113.5 333.2V321.7V325.5V335.7L1114.5 308.8V320.6V307.0V339.0V349.0L1115.5 331.8V348.6V348.7V323.9L1116.5 325.6V325.4V337.1V334.3L1117.5 322.7V344.1V338.1V338.7L1118.5 350.8V351.0V346.0V347.3L1119.5 349.1V328.3V327.0V341.4L1120.5 330.9V335.6V334.6V332.4L1121.5 326.1V319.1V326.2V319.9L1122.5 335.9V326.3V326.9V326.7L1123.5 330.6V327.4V330.5V332.0L1124.5 323.7V323.6V318.9V321.7L1125.5 321.1V327.6V320.9V316.5L1126.5 317.8V313.2V308.5V317.4L1127.5 318.4V303.5V309.4V302.3L1128.5 310.6V301.1V294.0V311.0V296.2L1129.5 297.7V306.6V311.2V302.1L1130.5 309.1V307.5V321.6V327.1L1131.5 347.2V323.0V341.1V341.1L1132.5 329.9V327.4V359.9V360.9L1133.5 348.1V342.3V337.3V351.2L1134.5 342.7V346.4V351.8V364.1L1135.5 363.3V410.2V408.1V394.5L1136.5 423.4V411.4V438.3V431.9L1137.5 437.5V434.9V439.2V437.9L1138.5 432.7V434.3V417.9V397.0V420.3L1139.5 424.3V424.6V428.7V429.2L1140.5 425.2V469.0V425.3V428.2V423.5L1141.5 432.6V441.4V423.9V429.9L1142.5 448.1V451.0V437.7V431.5L1143.5 413.7V438.5V430.5V420.5L1144.5 420.5V422.4V407.0V420.2V432.5L1145.5 418.9V423.5V424.2V433.1L1146.5 457.6V451.3V441.1V438.8L1147.5 451.6V434.8V443.0V447.4L1148.5 440.2V438.5V450.4V456.7L1149.5 456.5V455.5V443.5V448.8L1150.5 458.3V450.1V455.6V458.4L1151.5 463.0V475.5V485.3V499.7L1152.5 498.2V505.4V527.3V544.1L1153.5 524.0V519.7V535.3V568.5L1154.5 580.5V586.0V588.7V529.1L1155.5 571.3V605.7V576.0V576.9L1156.5 590.1V579.2V608.1V631.4L1157.5 635.5V625.7V630.0V646.0V627.2L1158.5 608.3V588.2V611.9V566.8L1159.5 617.1V612.4V588.8V585.8L1160.5 605.9V601.8V582.0V567.9L1161.5 545.7V563.9V580.4V571.5L1162.5 568.0V551.5V559.0V567.9L1163.5 541.0V561.1V553.2V563.5L1164.5 560.2V564.2V564.3V572.1L1165.5 554.1V555.6V542.0V552.8L1166.5 570.5V561.4V572.7V560.8L1167.5 565.0V575.6V570.9V568.0L1168.5 572.5V568.3V567.3V552.4L1169.5 539.1V548.0V530.4V545.8L1170.5 531.4V484.0V532.9V538.3V516.1L1171.5 538.4V531.2V504.7V509.0L1172.5 505.3V488.9V519.9V510.3L1173.5 523.0V534.7V523.4V517.3L1174.5 508.4V494.1V499.8V496.0L1175.5 498.9V525.6V526.3V542.1L1176.5 542.0V543.3V524.1V511.4L1177.5 534.8V540.2V538.8V526.5L1178.5 524.3V505.5V507.0V523.6L1179.5 530.3V520.6V516.5V502.8L1180.5 509.9V506.1V505.4V517.4L1181.5 494.0V492.5V512.3V507.5L1182.5 514.3V514.6V507.7V505.0L1183.5 509.5V503.5V493.5V498.8L1184.5 501.5V507.0V510.7V520.3L1185.5 518.6V518.7V515.9V520.7L1186.5 523.1V523.6V524.2V517.1L1187.5 520.3V522.3V522.9V515.8L1188.5 519.9V520.3V519.5V515.5L1189.5 508.4V497.7V491.8V488.9L1190.5 496.3V501.7V498.6V501.1L1191.5 499.6V499.1V490.0V504.4L1192.5 504.1V507.9V505.8V504.0L1193.5 486.3V508.5V475.7V503.4V504.2L1194.5 496.0V505.1V490.9V498.2L1195.5 511.9V506.5V506.7V499.0L1196.5 512.2V494.4V487.3V484.0L1197.5 483.4V495.5V512.4V496.3L1198.5 484.4V485.9V505.7V505.4L1199.5 518.4V513.0V502.7V494.9L1200.5 503.4V508.1V510.9V498.6L1201.5 493.3V501.6V514.5V524.4L1202.5 496.5V505.7V503.6V498.4L1203.5 508.2V505.2V508.8V506.0L1204.5 500.5V515.7V508.7V518.1L1205.5 497.5V497.2V510.3V521.3L1206.5 520.3V519.3V518.3V517.3L1207.5 512.0V507.3V500.5V499.4L1208.5 496.4V493.8V499.4V495.5L1209.5 492.4V493.9V506.6V500.1L1210.5 505.4V501.8V501.2V499.0L1211.5 497.5V499.2V496.0V498.2L1212.5 483.3V482.6V495.3V486.6L1213.5 488.8V487.7V486.2V461.9L1214.5 447.4V456.7V454.5V452.4L1215.5 448.9V453.2V462.0V459.8L1216.5 456.1V456.6V454.8V462.0L1217.5 459.5V462.2V452.6V446.0V454.6L1218.5 453.3V448.5V452.6V464.1L1219.5 458.4V467.7V459.5V451.6L1220.5 466.7V468.6V468.4V461.6L1221.5 454.9V456.8V462.4V460.4L1222.5 462.2V478.8V482.3V477.4L1223.5 472.8V479.0V486.1V488.0L1224.5 493.4V478.6V489.4V504.2L1225.5 504.0V500.2V497.7V518.6L1226.5 494.8V492.3V494.0V495.7L1227.5 497.4V554.6V499.1V505.4V518.5L1228.5 500.2V512.9V515.8V535.8L1229.5 532.5V536.1V510.2V501.0L1230.5 510.8V501.1V501.2V501.8L1231.5 506.9V515.6V534.5V516.4L1232.5 510.9V502.0V512.9V530.1L1233.5 538.6V507.4V523.3V522.9L1234.5 521.1V499.0V514.6V519.0V529.7L1235.5 540.5V531.1V544.7V535.8L1236.5 545.9V548.5V552.0V545.2L1237.5 542.1V546.6V543.2V548.0L1238.5 557.3V551.1V548.5V554.9L1239.5 546.3V544.1V546.0V538.8L1240.5 532.0V539.7V534.5V541.3L1241.5 545.2V529.0V530.7V527.8L1242.5 539.2V537.1V549.6V540.3L1243.5 542.0V545.9V546.0V518.0V550.2L1244.5 547.4V556.5V555.7V551.1L1245.5 544.7V574.0V545.4V544.4V547.8L1246.5 545.1V541.0V563.8V551.0L1247.5 548.1V541.8V548.1V548.7L1248.5 537.2V548.3V543.1V552.8L1249.5 555.6V548.6V553.1V539.4L1250.5 539.4V536.9V537.9V541.5L1251.5 539.8V533.7V541.1V535.1L1252.5 543.3V531.7V523.5V550.8L1253.5 531.4V541.8V551.2V551.3L1254.5 547.5V541.0V538.5V530.4L1255.5 539.1V544.8V530.0V525.3L1256.5 558.4V552.8V541.3V537.5L1257.5 555.0V569.3V555.1V555.7L1258.5 566.5V600.0V561.9V569.5V575.2L1259.5 588.7V591.6V591.9V592.4L1260.5 581.6V578.5V567.1V574.0L1261.5 576.7V561.5V571.2V580.7L1262.5 580.2V578.4V585.4V575.3L1263.5 579.1V560.9V560.8V564.0L1264.5 568.1V573.0V591.8V583.8L1265.5 591.2V590.8V585.1V582.0L1266.5 583.4V576.0V574.3V590.0L1267.5 581.9V569.5V585.9V587.0L1268.5 590.0V590.0V568.0V576.1L1269.5 579.7V585.6V583.3V576.1L1270.5 557.5V562.1V558.5V560.6L1271.5 583.8V577.0V574.0V556.4L1272.5 566.9V562.2V571.2V572.9L1273.5 556.5V563.4V572.2V581.6L1274.5 577.5V593.0V581.2V575.8V584.1L1275.5 578.3V574.6V574.9V582.2L1276.5 577.9V578.2V564.5V558.2L1277.5 558.3V570.6V568.6V565.5L1278.5 559.3V573.2V568.4V572.1L1279.5 580.3V579.5V583.8V579.4L1280.5 581.8V580.9V570.9V571.0L1281.5 566.6V561.3V567.7V563.0L1282.5 577.5V567.2V563.6V566.2L1283.5 562.9V565.1V561.4V554.4L1284.5 554.0V553.6V566.4V567.9L1285.5 566.4V561.3V560.9V563.5L1286.5 553.1V552.2V550.9V564.5L1287.5 554.9V565.2V558.7V570.0L1288.5 566.0V561.6V568.2V567.7L1289.5 567.3V553.2V560.7V563.9L1290.5 557.5V550.2V542.4V551.8L1291.5 550.8V547.8V538.0V551.1L1292.5 551.6V545.6V551.1V538.5L1293.5 543.4V533.4V543.1V536.5L1294.5 542.0V533.9V534.6V538.7L1295.5 527.9V528.7V523.1V530.2L1296.5 524.4V522.8V522.6V530.1L1297.5 520.3V521.3V519.7V517.2L1298.5 514.4V516.3V518.8V509.7L1299.5 515.2V509.4V513.0V525.0L1300.5 514.7V513.8V511.9V517.5L1301.5 511.6V502.3V502.3V507.3L1302.5 512.7V521.0V502.0V515.3V521.2L1303.5 525.7V526.2V515.6V508.3L1304.5 524.3V523.4V523.9V518.6L1305.5 522.4V527.0V520.2V523.3L1306.5 518.9V532.5V516.2V516.3L1307.5 531.6V527.6V536.4V528.4L1308.5 521.6V534.0V538.1V534.7L1309.5 545.1V548.8V549.5V546.6L1310.5 552.7V556.1V536.2V553.5L1311.5 551.7V556.5V560.6V565.1L1312.5 558.6V552.4V564.8V566.3L1313.5 564.3V566.0V566.9V569.2L1314.5 565.2V569.9V572.9V564.0L1315.5 574.9V580.0V562.8V565.3L1316.5 592.8V587.0V581.1V586.1L1317.5 588.5V576.3V588.0V593.2L1318.5 593.5V594.5V593.4V590.4L1319.5 587.0V589.6V595.1V600.0L1320.5 596.7V589.6V594.8V604.9L1321.5 604.6V591.3V602.7V608.0L1322.5 593.6V580.0V597.9V606.8V609.0L1323.5 607.9V611.5V603.4V607.8L1324.5 610.0V607.6V613.9V612.2L1325.5 615.7V610.5V606.8V608.1L1326.5 627.0V626.1V625.4V617.0L1327.5 621.7V612.7V622.5V624.4L1328.5 620.3V627.7V585.0V614.0V608.1L1329.5 607.5V613.0V620.0V616.9L1330.5 618.8V638.1V604.2V623.0L1331.5 632.0V632.3V625.8V623.1L1332.5 625.1V624.5V612.9V624.4L1333.5 611.3V613.9V611.4V601.5L1334.5 615.6V614.5V602.3V607.9L1335.5 596.9V620.2V621.0V628.7L1336.5 616.5V620.2V605.5V600.0L1337.5 604.3V610.6V617.7V609.8L1338.5 618.1V620.2V605.0V604.0L1339.5 597.7V617.3V607.7V615.6L1340.5 619.7V612.4V607.6V612.5L1341.5 606.2V599.9V599.9V610.4L1342.5 614.4V627.9V607.8V616.6L1343.5 608.4V622.5V625.7V623.2L1344.5 632.0V623.3V618.5V613.0L1345.5 614.2V621.7V630.7V641.3L1346.5 634.3V627.9V629.4V630.1L1347.5 631.0V633.0V629.9V638.1L1348.5 637.8V669.6V642.5V630.3V641.2L1349.5 642.4V653.2V657.0V661.8L1350.5 660.4V626.3V641.5V626.5L1351.5 632.2V625.8V644.6V651.2L1352.5 629.6V631.5V632.9V634.0L1353.5 634.5V629.4V619.7V615.0L1354.5 617.5V613.7V631.5V643.3L1355.5 644.8V645.9V642.5V636.9L1356.5 630.5V628.4V647.9V651.4L1357.5 637.0V640.0V643.4V649.8L1358.5 635.9V628.8V643.5V651.3L1359.5 649.7V646.3V645.8V643.2L1360.5 641.0V629.7V635.1V661.2L1361.5 662.4V661.0V670.6V658.7L1362.5 669.6V660.2V662.2V660.4L1363.5 658.3V667.1V675.3V664.7L1364.5 653.1V660.7V669.0V662.7L1365.5 658.6V662.3V670.7V658.9L1366.5 670.1V669.7V669.6V683.3L1367.5 676.8V675.7V675.1V677.8L1368.5 683.3V684.4V683.2V674.0L1369.5 672.9V683.7V674.2V670.3L1370.5 680.5V671.6V699.5V675.2V683.2L1371.5 683.5V674.4V673.6V684.5L1372.5 693.4V695.7V681.9V682.9L1373.5 682.5V676.0V676.2V670.4L1374.5 675.0V672.5V672.2V682.9L1375.5 670.8V672.3V667.6V667.0L1376.5 668.0V668.6V669.5V662.9L1377.5 667.8V658.7V654.1V653.2L1378.5 663.6V667.3V658.9V665.2L1379.5 661.6V650.0V653.1V647.5L1380.5 643.8V642.5V643.6V646.3L1381.5 641.9V646.3V647.6V649.0L1382.5 650.2V643.3V646.0V648.1L1383.5 642.2V640.9V633.6V640.1L1384.5 633.1V641.8V643.0V641.3L1385.5 647.2V641.7V656.9V650.5L1386.5 631.6V627.9V634.0V649.2L1387.5 632.7V645.4V636.4V677.6V642.8L1388.5 628.9V628.3V633.6V600.4L1389.5 611.6V620.5V615.3V630.0L1390.5 620.6V609.1V588.4V589.2L1391.5 602.0V613.3V610.9V628.4L1392.5 619.8V622.3V629.8V625.5L1393.5 620.4V624.7V626.9V613.5L1394.5 615.6V600.1V620.5V629.8L1395.5 612.0V616.4V620.8V616.2L1396.5 607.8V613.8V599.9V610.3L1397.5 600.2V599.5V589.7V599.6L1398.5 602.2V586.1V585.5V643.7V580.3L1399.5 589.2V581.5V587.2V591.8L1400.5 592.8V584.1V580.0V575.6L1401.5 574.0V580.8V582.7V590.7L1402.5 588.2V583.7V575.6V587.9L1403.5 586.3V585.0V579.1V576.3L1404.5 585.0V579.7V586.9V590.8L1405.5 586.4V577.1V586.2V596.7L1406.5 588.1V582.2V593.9V593.9L1407.5 589.9V598.9V594.9V606.6V597.5L1408.5 597.6V596.8V592.9V602.8L1409.5 597.0V592.5V599.7V600.6L1410.5 601.2V597.0V597.2V585.0L1411.5 586.3V582.1V580.2V578.2L1412.5 582.5V580.7V574.1V578.2L1413.5 574.9V568.0V577.3V582.9V577.6V578.5" fill="none" stroke="#000" stroke-width="1" shape-rendering="crispEdges"/>
<!-- header -->
<text x="5.3" y="16.7" class="hd">FOREX JPY= ·</text>
<text x="91.1" y="16.7" class="hd">Bid</text>
<text x="122.3" y="16.7" class="hd">O144.29</text>
<text x="175.6" y="16.7" class="hd">H144.34</text>
<text x="227.6" y="16.7" class="hd">L144.24</text>
<text x="278" y="16.7" class="hd">C144.25</text>
<text x="330" y="16.7" class="hd">−0.04 (−0.03%)</text>
<!-- titles -->
<text x="135.7" y="196" class="rd" font-size="24" textLength="291.6" lengthAdjust="spacingAndGlyphs">USD/JPY - HOURLY CHART</text>
<text x="1310.3" y="46.2" font-family='"Liberation Sans", sans-serif' font-weight="bold" font-size="20" fill="#ff0000" textLength="210.4" lengthAdjust="spacingAndGlyphs">September 24th, 2024</text>
<!-- wave labels red -->
<g class="rd" font-size="19.5" text-anchor="middle">
<text x="132.4" y="439">1</text>
<text x="404.1" y="552">2</text>
<text x="653.9" y="151">3</text>
<text x="682.9" y="417">4</text>
<text x="992" y="101.7">5</text>
<text x="1000.3" y="175.5">1</text>
<text x="1037.6" y="117.5">2</text>
<text x="1153.9" y="669.8">3</text>
<text x="1214.9" y="427">4</text>
<text x="1370.9" y="720.2">5</text>
</g>
<!-- blue wave labels -->
<g class="bl" font-size="23.5" text-anchor="middle">
<text x="35.3" y="722" textLength="31.7">(4)</text>
<text x="993.2" y="69.6" textLength="31.7">(5)</text>
<text x="1374.8" y="756.5">(A)</text>
</g>
<!-- circled 5 -->
<circle cx="991.5" cy="24.3" r="18.2" fill="none" stroke="#131722" stroke-width="1.2"/>
<text x="991.6" y="32.2" font-family='"Liberation Sans", sans-serif' font-weight="bold" font-size="23.5" fill="#000" text-anchor="middle">5</text>
<!-- box 161.95 -->
<rect x="800.5" y="105.5" width="129" height="22" fill="#fff" stroke="#5b6e83" stroke-width="1"/>
<text x="805.5" y="122.2" class="rd" font-size="15.5" textLength="119.5" lengthAdjust="spacingAndGlyphs">161.95 - Jul 3rd</text>
<path d="M935 118.4 H987 M981.2 113.1 L987 118.4 L981.2 123.7" fill="none" stroke="#2962ff" stroke-width="1.2"/>
<!-- box 139.58 -->
<rect x="1425.5" y="688.5" width="141" height="22" fill="#fff" stroke="#5b6e83" stroke-width="1"/>
<text x="1430.7" y="704.8" class="rd" font-size="15" textLength="132.3" lengthAdjust="spacingAndGlyphs">139.58 - Sep 16th</text>
<path d="M1425.3 700.2 H1375 M1380.8 694.9 L1375 700.2 L1380.8 705.5" fill="none" stroke="#2962ff" stroke-width="1.2"/>
<!-- horizontal target lines -->
<line x1="1456.3" y1="341.5" x2="1842" y2="341.5" stroke="#2962ff" stroke-width="1"/>
<line x1="1456.3" y1="445.5" x2="1842" y2="445.5" stroke="#2962ff" stroke-width="1"/>
<text x="1476.5" y="330.7" class="bl" font-size="21" textLength="290.2" lengthAdjust="spacingAndGlyphs">61.8% retracement of wave (A)</text>
<text x="1479" y="435.3" class="bl" font-size="21" textLength="325.4" lengthAdjust="spacingAndGlyphs">Previous wave 4 of a lesser degree</text>
<!-- red arrows -->
<g fill="none" stroke="#f23645" stroke-width="2" stroke-linecap="round">
<path d="M1409.2 560.9 L1473.7 345.3 M1460.8 353 L1473.7 345.3 L1481.4 358.6"/>
<path d="M1416.2 560.9 L1475.5 450 M1460.8 455.2 L1475.5 450 L1480 464"/>
</g>
<!-- axes -->
<line x1="1842.5" y1="0" x2="1842.5" y2="803" stroke="#cccccc" stroke-width="1"/>
<line x1="0" y1="771.5" x2="1907" y2="771.5" stroke="#cccccc" stroke-width="1"/>
<text x="1854" y="71.8" class="ax" textLength="46.2">164.00</text>
<text x="1854" y="123.7" class="ax" textLength="46.2">162.00</text>
<text x="1854" y="175.6" class="ax" textLength="46.2">160.00</text>
<text x="1854" y="227.5" class="ax" textLength="46.2">158.00</text>
<text x="1854" y="279.4" class="ax" textLength="46.2">156.00</text>
<text x="1854" y="331.4" class="ax" textLength="46.2">154.00</text>
<text x="1854" y="383.3" class="ax" textLength="46.2">152.00</text>
<text x="1854" y="435.2" class="ax" textLength="46.2">150.00</text>
<text x="1854" y="487.1" class="ax" textLength="46.2">148.00</text>
<text x="1854" y="539.0" class="ax" textLength="46.2">146.00</text>
<text x="1854" y="642.9" class="ax" textLength="46.2">142.00</text>
<text x="1854" y="694.8" class="ax" textLength="46.2">140.00</text>
<text x="1854" y="746.7" class="ax" textLength="46.2">138.00</text>

<text x="31.9" y="794" class="ax" font-weight="bold" textLength="35.6" lengthAdjust="spacingAndGlyphs">2024</text>
<text x="194.8" y="794" class="ax" textLength="26.2">Feb</text>
<text x="344.7" y="794" class="ax" textLength="26.6">Mar</text>
<text x="497.2" y="794" class="ax" textLength="26.2">Apr</text>
<text x="652.8" y="794" class="ax" textLength="28.9">May</text>
<text x="817.7" y="794" class="ax" textLength="26.0">Jun</text>
<text x="964.6" y="794" class="ax" textLength="22.0">Jul</text>
<text x="1126.2" y="794" class="ax" textLength="27.5">Aug</text>
<text x="1281.2" y="794" class="ax" textLength="27.2">Sep</text>
<text x="1433.0" y="794" class="ax" textLength="26.7">Oct</text>
<text x="1597.5" y="794" class="ax" textLength="28.6">Nov</text>

<!-- price tags -->
<rect x="1842" y="330.4" width="65" height="22.4" rx="2" fill="#2962ff"/><rect x="1842" y="330.4" width="10" height="22.4" fill="#2962ff"/>
<text x="1854" y="347" font-family='"Liberation Sans", sans-serif' font-weight="bold" font-size="15" fill="#fff">153.40</text>
<rect x="1842" y="434.2" width="65" height="22.6" rx="2" fill="#2962ff"/><rect x="1842" y="434.2" width="10" height="22.6" fill="#2962ff"/>
<text x="1854" y="451" font-family='"Liberation Sans", sans-serif' font-weight="bold" font-size="15" fill="#fff">149.40</text>
<rect x="1842" y="568" width="65" height="23" rx="2" fill="#000"/><rect x="1842" y="568" width="10" height="23" fill="#000"/>
<text x="1854" y="585" font-family='"Liberation Sans", sans-serif' font-weight="bold" font-size="15" fill="#fff">144.25</text>
<!-- JPY box -->
<rect x="1846.5" y="1.5" width="66" height="25" rx="4" fill="#fff" stroke="#e0e3eb" stroke-width="1"/>
<text x="1850.4" y="19" font-family='"Liberation Sans", sans-serif' font-size="16" fill="#111111">JPY</text>
<path d="M1898 13.5 L1900.5 16 L1903 13.5" fill="none" stroke="#111111" stroke-width="1.2"/>
<!-- settings hex -->
<path d="M1871.5 790 L1874.8 784 L1881.2 784 L1884.5 790 L1881.2 796 L1874.8 796 Z" fill="none" stroke="#131722" stroke-width="1.1"/>
<circle cx="1878" cy="790" r="2.2" fill="none" stroke="#131722" stroke-width="1.1"/>
</svg>
</body></html>
